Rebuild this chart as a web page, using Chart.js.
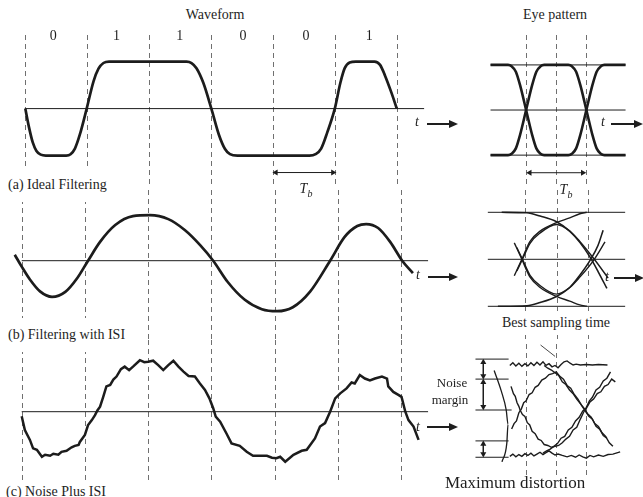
<!DOCTYPE html>
<html>
<head>
<meta charset="utf-8">
<title>Waveform and eye pattern</title>
<script src="https://cdn.jsdelivr.net/npm/chart.js@4.4.1/dist/chart.umd.min.js"></script>
<style>
  html, body { margin: 0; padding: 0; background: #fff; }
  #stage { position: relative; width: 643px; height: 497px; overflow: hidden; font-family: "Liberation Serif", "DejaVu Serif", serif; color: #1e1e1e; }
  #stage canvas { position: absolute; }
  .txt { position: absolute; white-space: nowrap; font-size: 14px; line-height: 14px; z-index: 2; }
  .mid { transform: translate(-50%, -50%); }
  .left { transform: translateY(-50%); }
  .gap { background: #fff; padding: 10px 2px; }
  .it { font-style: italic; }
  .sub { font-size: 10px; font-style: italic; position: relative; top: 4px; }
  .arrow { position: absolute; height: 2px; background: #1e1e1e; z-index: 2; }
  .arrow::after { content: ''; position: absolute; right: -3px; top: -3px; border-left: 9px solid #1e1e1e; border-top: 4px solid transparent; border-bottom: 4px solid transparent; }
</style>
</head>
<body>
<div id="stage"></div>
<script>
// bits and sampling grid (time in bit periods Tb)
const bitLabels = ['0', '1', '1', '0', '0', '1'];
const bitEdges = [0, 1, 2, 3, 4, 5, 6];
const eyeEdges = [0, 0.5, 1];

// (a) ideal filtering
const waveATime = [0, 0.06, 0.12, 0.18, 0.25, 0.33, 0.66, 0.73, 0.8, 0.88, 0.99, 1.1, 1.18, 1.26, 1.35, 2.6, 2.68, 2.76, 2.87, 3.0, 3.12, 3.22, 3.3, 3.42, 4.58, 4.68, 4.77, 4.87, 4.99, 5.08, 5.15, 5.23, 5.33, 5.63, 5.72, 5.8, 5.9, 5.99];
const waveAValue = [0, -0.4, -0.72, -0.9, -0.98, -1, -1, -0.97, -0.85, -0.55, 0, 0.58, 0.85, 0.97, 1, 1, 0.97, 0.86, 0.55, 0, -0.55, -0.86, -0.97, -1, -1, -0.97, -0.85, -0.5, 0, 0.55, 0.86, 0.98, 1, 1, 0.93, 0.7, 0.35, 0];

// (b) filtering with ISI
const waveBTime = [-0.11, 0, 0.13, 0.29, 0.48, 0.69, 0.88, 1.05, 1.24, 1.48, 1.76, 2.03, 2.32, 2.58, 2.82, 3.03, 3.26, 3.53, 3.8, 4.04, 4.29, 4.56, 4.88, 5.11, 5.31, 5.45, 5.64, 5.83, 6.02, 6.19];
const waveBValue = [0.12, -0.12, -0.38, -0.62, -0.73, -0.63, -0.35, 0, 0.38, 0.72, 0.9, 0.92, 0.84, 0.62, 0.32, 0, -0.43, -0.79, -0.98, -1.02, -0.94, -0.63, 0, 0.48, 0.7, 0.74, 0.66, 0.38, 0, -0.25];

// (c) noise plus ISI
const waveCTime = [0, 0.05, 0.13, 0.18, 0.24, 0.32, 0.37, 0.45, 0.5, 0.58,
  0.63, 0.71, 0.79, 0.84, 0.9, 0.92, 1.0, 1.05, 1.11, 1.16,
  1.2, 1.24, 1.29, 1.34, 1.4, 1.45, 1.5, 1.57, 1.63, 1.7,
  1.77, 1.87, 1.94, 2.0, 2.08, 2.16, 2.24, 2.32, 2.4, 2.48,
  2.56, 2.64, 2.74, 2.82, 2.9, 2.97, 3.03, 3.07, 3.14, 3.24,
  3.32, 3.45, 3.56, 3.66, 3.88, 3.96, 4.03, 4.09, 4.17, 4.3,
  4.43, 4.51, 4.64, 4.72, 4.8, 4.88, 4.96, 5.04, 5.14, 5.22,
  5.27, 5.35, 5.43, 5.51, 5.59, 5.7, 5.78, 5.8, 5.88, 5.96,
  6.01, 6.07, 6.12, 6.2, 6.28];
const waveCValue = [-0.09, -0.37, -0.57, -0.74, -0.77, -0.91, -0.87, -0.89, -0.85, -0.87,
  -0.81, -0.79, -0.72, -0.69, -0.67, -0.61, -0.47, -0.27, -0.17, -0.07,
  0.03, 0.1, 0.3, 0.51, 0.54, 0.65, 0.71, 0.86, 0.91, 0.84,
  0.92, 1.04, 1.0, 1.01, 1.03, 0.94, 0.84, 0.94, 1.03, 0.91,
  0.81, 0.72, 0.71, 0.57, 0.44, 0.27, 0.07, -0.1, -0.2, -0.44,
  -0.64, -0.69, -0.81, -0.89, -0.89, -0.93, -0.94, -0.91, -1.01, -0.87,
  -0.79, -0.77, -0.54, -0.3, -0.23, 0, 0.27, 0.37, 0.47, 0.59,
  0.57, 0.74, 0.67, 0.63, 0.67, 0.71, 0.67, 0.51, 0.4, 0.34,
  0.3, 0, -0.17, -0.3, -0.57];

// eye (a): the two traces of the ideal pulse
const eyeATime = [-0.59, -0.3, -0.24, -0.17, -0.1, 0, 0.1, 0.17, 0.24, 0.3, 0.7, 0.76, 0.83, 0.9, 1, 1.1, 1.17, 1.24, 1.3, 1.65];
const eyeAFall = [1, 1, 0.97, 0.85, 0.55, 0, -0.55, -0.85, -0.97, -1, -1, -0.97, -0.85, -0.55, 0, 0.55, 0.85, 0.97, 1, 1];
const eyeARise = [-1, -1, -0.97, -0.85, -0.55, 0, 0.55, 0.85, 0.97, 1, 1, 0.97, 0.85, 0.55, 0, -0.55, -0.85, -0.97, -1, -1];

// eye (b): traces as [t, value]
const eyeBTopFall = [[-0.37, 1.0], [0.03, 0.99], [0.24, 0.92], [0.5, 0.8], [0.71, 0.6], [0.87, 0.36], [1.03, 0.05], [1.16, -0.26], [1.3, -0.62]];
const eyeBBottomRise = [[-0.43, -1.0], [0.03, -0.99], [0.24, -0.92], [0.5, -0.79], [0.71, -0.6], [0.87, -0.34], [1.03, -0.03], [1.16, 0.3], [1.24, 0.62]];
const eyeBUpperArc = [[-0.17, -0.35], [-0.05, 0.0], [0.08, 0.38], [0.24, 0.6], [0.5, 0.78], [0.71, 0.88], [0.87, 0.97], [0.98, 1.0]];
const eyeBLowerArc = [[-0.17, 0.35], [-0.05, 0.0], [0.08, -0.38], [0.24, -0.6], [0.5, -0.79], [0.71, -0.89], [0.87, -0.97], [0.98, -1.0]];
const eyeBUpperArc2 = [[-0.13, -0.25], [-0.04, 0.0], [0.08, 0.34], [0.24, 0.56], [0.5, 0.74], [0.71, 0.6], [0.87, 0.38], [1.1, 0.0], [1.32, -0.4]];
const eyeBLowerArc2 = [[-0.13, 0.25], [-0.04, 0.0], [0.08, -0.34], [0.24, -0.56], [0.5, -0.74], [0.71, -0.6], [0.87, -0.38], [1.1, 0.0], [1.27, 0.37]];

// eye (c): noisy traces as [t, value]
const eyeCTop = [[-0.27, 0.98], [-0.22, 1.04], [-0.17, 0.97], [-0.12, 1.03], [-0.07, 0.96], [-0.02, 1.02], [0.03, 0.97], [0.08, 1.04], [0.13, 0.98], [0.18, 1.05], [0.23, 0.99], [0.28, 1.06], [0.33, 0.98], [0.38, 1.02], [0.43, 0.95], [0.48, 0.98], [0.53, 0.93], [0.58, 1.0], [0.63, 1.06], [0.68, 1.08], [0.73, 1.03], [0.78, 0.99], [0.83, 1.01], [0.9, 0.99], [1.0, 1.0], [1.1, 0.99], [1.2, 1.0], [1.35, 0.99]];
const eyeCBottom = [[-0.27, -1.02], [-0.22, -0.97], [-0.17, -1.03], [-0.12, -0.98], [-0.07, -1.02], [-0.02, -0.96], [0.03, -1.0], [0.08, -0.95], [0.13, -1.01], [0.18, -0.97], [0.23, -0.93], [0.28, -0.98], [0.33, -0.94], [0.38, -0.9], [0.43, -0.95], [0.48, -0.99], [0.53, -0.97], [0.6, -1.0], [0.68, -1.03], [0.75, -1.0], [0.82, -1.04], [0.88, -0.99], [0.94, -1.03], [1.0, -1.06], [1.06, -1.0], [1.12, -1.03], [1.2, -0.99], [1.28, -1.02], [1.36, -0.98], [1.44, -0.97], [1.56, -0.92]];
const eyeCDownUp = [[-0.25, 0.52], [-0.21, 0.36], [-0.18, 0.3], [-0.15, 0.16], [-0.12, 0.08], [-0.1, 0.0], [-0.06, -0.1], [-0.02, -0.14], [0.02, -0.28], [0.06, -0.33], [0.1, -0.47], [0.15, -0.52], [0.2, -0.64], [0.25, -0.67], [0.3, -0.76], [0.36, -0.78], [0.42, -0.82], [0.48, -0.8], [0.54, -0.78], [0.6, -0.72], [0.66, -0.64], [0.72, -0.58], [0.78, -0.44], [0.84, -0.38], [0.9, -0.2], [0.95, -0.06], [1.0, 0.06], [1.05, 0.2], [1.1, 0.28], [1.16, 0.44], [1.22, 0.5], [1.28, 0.64], [1.34, 0.7], [1.4, 0.84]];
const eyeCUpDown = [[-0.24, -0.42], [-0.2, -0.3], [-0.16, -0.24], [-0.12, -0.06], [-0.08, 0.02], [-0.04, 0.16], [0.0, 0.2], [0.05, 0.34], [0.1, 0.38], [0.15, 0.5], [0.2, 0.54], [0.26, 0.66], [0.32, 0.7], [0.38, 0.78], [0.44, 0.8], [0.5, 0.84], [0.56, 0.74], [0.62, 0.68], [0.68, 0.54], [0.74, 0.48], [0.8, 0.34], [0.86, 0.24], [0.92, 0.1], [0.98, -0.02], [1.04, -0.14], [1.1, -0.2], [1.16, -0.36], [1.22, -0.42], [1.28, -0.56], [1.34, -0.62]];
const eyeCTopFall = [[0.3, 0.98], [0.36, 0.92], [0.42, 0.88], [0.48, 0.82], [0.54, 0.76], [0.6, 0.62], [0.66, 0.56], [0.72, 0.44], [0.78, 0.36], [0.84, 0.24], [0.9, 0.14], [0.96, 0.04], [1.02, -0.08], [1.08, -0.16], [1.14, -0.3], [1.2, -0.36], [1.26, -0.5], [1.32, -0.58], [1.38, -0.72], [1.44, -0.8]];
const eyeCBottomRise = [[0.28, -0.95], [0.34, -0.9], [0.4, -0.86], [0.46, -0.8], [0.52, -0.74], [0.58, -0.62], [0.64, -0.58], [0.7, -0.44], [0.76, -0.38], [0.82, -0.24], [0.88, -0.16], [0.94, -0.02], [1.0, 0.04], [1.06, 0.18], [1.12, 0.24], [1.18, 0.36], [1.24, 0.4], [1.3, 0.52], [1.36, 0.56], [1.42, 0.68], [1.48, 0.62]];

// noise margin levels and the "maximum distortion" arc
const marginLevels = [1.12, 0.68, 0, -0.68, -1.04];
const distortionArc = [[-0.53, 0.87], [-0.41, 0.41], [-0.33, 0], [-0.3, -0.31], [-0.32, -0.73], [-0.4, -1.14]];

// ---- layout ----
const INK = '#1c1c1c';
const WAVE = { left: 0, width: 430, zeroX: 21.7, unitX: 63.2 };
const EYE = { left: 458, width: 185, zeroX: 525, unitX: 63 };
const waveRows = [
  { top: 31, height: 159, zeroY: 108.5, unitY: 49.5 },
  { top: 190, height: 150, zeroY: 260.7, unitY: 49.5 },
  { top: 340, height: 140, zeroY: 411.7, unitY: 49.5 }
];
const eyeRows = [
  { top: 31, height: 159, zeroY: 110, unitY: 47.5 },
  { top: 190, height: 150, zeroY: 259.3, unitY: 47 },
  { top: 340, height: 140, zeroY: 410, unitY: 48.2 }
];
const axisEnd = 6.43;
const refSpanA = [-0.59, 1.65];
const refSpanB = [-0.59, 1.59];

const stage = document.getElementById('stage');

function xy(xs, ys) { return xs.map((x, i) => ({ x, y: ys[i] })); }
function pairs(list) { return list.map(([x, y]) => ({ x, y })); }

function smooth(data, width) {
  return { data, borderColor: INK, borderWidth: width, pointRadius: 0, cubicInterpolationMode: 'monotone' };
}
function jagged(data, width) {
  return { data, borderColor: INK, borderWidth: width, pointRadius: 0, tension: 0 };
}
function hline(x1, x2, y, width) {
  return jagged([{ x: x1, y }, { x: x2, y }], width);
}
function arrowLine(p1, p2, rot1, rot2) {
  return {
    data: [p1, p2], borderColor: INK, borderWidth: 1, tension: 0,
    pointStyle: 'triangle', pointRadius: 3.5, pointRotation: [rot1, rot2],
    pointBackgroundColor: INK, pointBorderColor: INK, pointBorderWidth: 0
  };
}

function dashPlugin(edges) {
  return {
    id: 'bitDash',
    beforeDatasetsDraw(chart) {
      const { ctx, chartArea, scales } = chart;
      ctx.save();
      ctx.strokeStyle = '#707070';
      ctx.lineWidth = 1;
      ctx.setLineDash([5, 4]);
      edges.forEach(v => {
        const px = Math.round(scales.x.getPixelForValue(v)) + 0.5;
        ctx.beginPath();
        ctx.moveTo(px, chartArea.top);
        ctx.lineTo(px, chartArea.bottom);
        ctx.stroke();
      });
      ctx.restore();
    }
  };
}

function panel(col, row, datasets, edges) {
  const cv = document.createElement('canvas');
  cv.width = col.width;
  cv.height = row.height;
  cv.style.cssText = `left:${col.left}px;top:${row.top}px;width:${col.width}px;height:${row.height}px`;
  stage.appendChild(cv);
  new Chart(cv, {
    type: 'line',
    data: { datasets },
    options: {
      responsive: false,
      animation: false,
      devicePixelRatio: 1,
      events: [],
      layout: { padding: 0 },
      plugins: { legend: { display: false }, tooltip: { enabled: false } },
      scales: {
        x: { type: 'linear', display: false,
             min: (col.left - col.zeroX) / col.unitX,
             max: (col.left + col.width - col.zeroX) / col.unitX },
        y: { type: 'linear', display: false,
             min: -(row.top + row.height - row.zeroY) / row.unitY,
             max: (row.zeroY - row.top) / row.unitY }
      }
    },
    plugins: [dashPlugin(edges)]
  });
}

// waveform column
panel(WAVE, waveRows[0], [
  hline(0, axisEnd, 0, 1),
  smooth(xy(waveATime, waveAValue), 2.7),
  arrowLine({ x: 4.04, y: -1.36 }, { x: 4.96, y: -1.36 }, 270, 90)
], bitEdges);
panel(WAVE, waveRows[1], [
  hline(0, axisEnd, 0, 1),
  smooth(xy(waveBTime, waveBValue), 2.7)
], bitEdges);
panel(WAVE, waveRows[2], [
  hline(0, axisEnd, 0, 1),
  jagged(xy(waveCTime, waveCValue), 2.5)
], bitEdges);

// eye pattern column
panel(EYE, eyeRows[0], [
  hline(refSpanA[0], refSpanA[1], 1, 1),
  hline(refSpanA[0], refSpanA[1], 0, 1),
  hline(refSpanA[0], refSpanA[1], -1, 1),
  smooth(xy(eyeATime, eyeAFall), 2.6),
  smooth(xy(eyeATime, eyeARise), 2.6),
  arrowLine({ x: 0.06, y: -1.39 }, { x: 0.94, y: -1.39 }, 270, 90)
], eyeEdges);
panel(EYE, eyeRows[1], [
  hline(refSpanB[0], refSpanB[1], 1, 1),
  hline(refSpanB[0], refSpanB[1], 0, 1),
  hline(refSpanB[0], refSpanB[1], -1, 1),
  smooth(pairs(eyeBTopFall), 1.6),
  smooth(pairs(eyeBBottomRise), 1.6),
  smooth(pairs(eyeBUpperArc), 1.4),
  smooth(pairs(eyeBLowerArc), 1.4),
  smooth(pairs(eyeBUpperArc2), 1.4),
  smooth(pairs(eyeBLowerArc2), 1.4)
], eyeEdges);
panel(EYE, eyeRows[2], [
  jagged(pairs(eyeCTop), 1.4),
  jagged(pairs(eyeCBottom), 1.4),
  jagged(pairs(eyeCDownUp), 1.4),
  jagged(pairs(eyeCUpDown), 1.4),
  jagged(pairs(eyeCTopFall), 1.4),
  jagged(pairs(eyeCBottomRise), 1.4),
  ...marginLevels.map(v => hline(-0.84, v === 0 ? -0.24 : -0.29, v, 1)),
  arrowLine({ x: -0.71, y: marginLevels[0] - 0.07 }, { x: -0.71, y: marginLevels[1] + 0.07 }, 0, 180),
  arrowLine({ x: -0.71, y: marginLevels[1] - 0.07 }, { x: -0.71, y: marginLevels[2] + 0.07 }, 0, 180),
  arrowLine({ x: -0.71, y: marginLevels[3] - 0.07 }, { x: -0.71, y: marginLevels[4] + 0.07 }, 0, 180),
  smooth(pairs(distortionArc), 1.3),
  jagged([{ x: 0.24, y: 1.43 }, { x: 0.48, y: 1.18 }], 0.8)
], eyeEdges);

// ---- text ----
function text(html, x, y, cls, extra) {
  const d = document.createElement('div');
  d.className = 'txt ' + (cls || 'mid');
  d.innerHTML = html;
  d.style.left = x + 'px';
  d.style.top = y + 'px';
  if (extra) Object.assign(d.style, extra);
  stage.appendChild(d);
}
function arrow(x1, x2, y) {
  const d = document.createElement('div');
  d.className = 'arrow';
  d.style.left = x1 + 'px';
  d.style.width = (x2 - x1) + 'px';
  d.style.top = (y - 1) + 'px';
  stage.appendChild(d);
}
const tb = '<span class="it">T</span><span class="sub">b</span>';

text('Waveform', 215, 15);
text('Eye pattern', 555, 15);
bitLabels.forEach((b, i) => text(b, WAVE.zeroX + (i + 0.5) * WAVE.unitX, 36));
text('(a) Ideal Filtering', 6, 185, 'left gap');
text('(b) Filtering with ISI', 6, 335, 'left gap');
text('(c) Noise Plus ISI', 6, 492, 'left');
text(tb, 306, 189);
text(tb, 566, 190);
text('Best sampling time', 556, 323, 'mid gap', { padding: '5px 3px' });
text('Noise', 452, 383, 'mid', { fontSize: '13px' });
text('margin', 450, 400, 'mid', { fontSize: '13px' });
text('Maximum distortion', 515, 482, 'mid', { fontSize: '17px', lineHeight: '17px' });

text('t', 417, 122, 'mid it');
text('t', 418, 275, 'mid it');
text('t', 418, 427, 'mid it');
text('t', 603, 122, 'mid it');
text('t', 607, 277, 'mid it');
arrow(427, 455, 124);
arrow(428, 455, 277);
arrow(427, 455, 427);
arrow(611, 640, 124);
arrow(614, 641, 278);
</script>
</body>
</html>
